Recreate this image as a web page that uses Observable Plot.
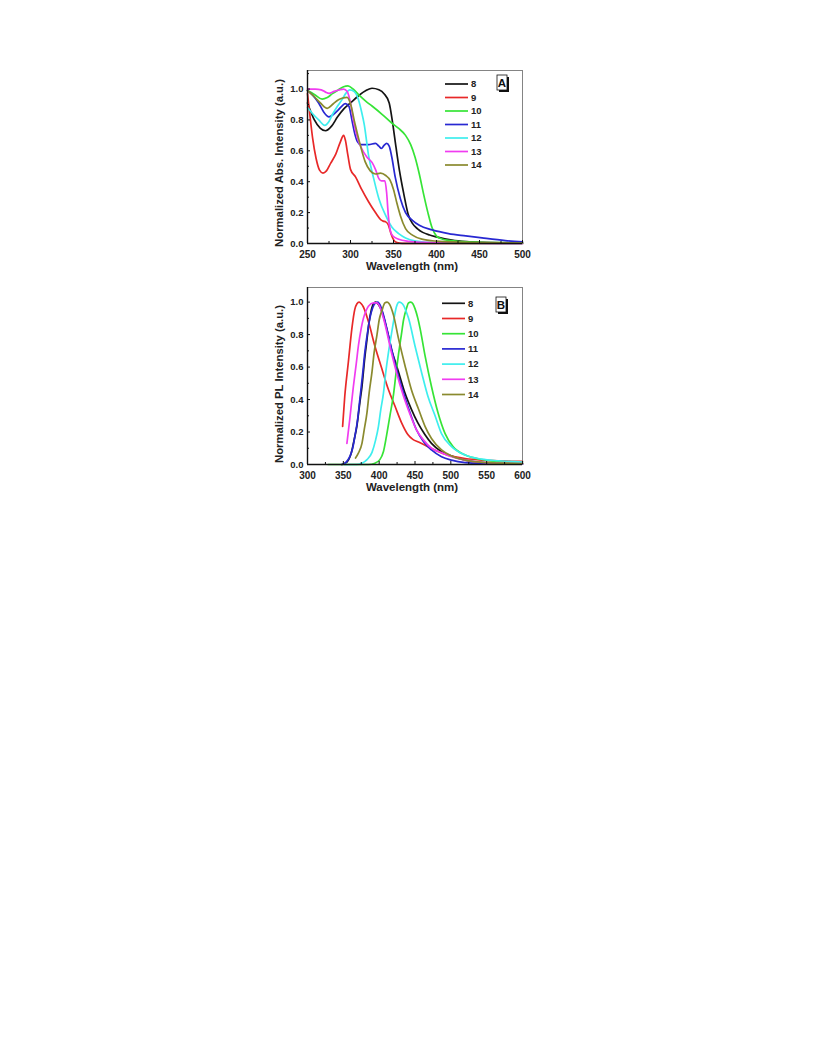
<!DOCTYPE html>
<html><head><meta charset="utf-8">
<script src="https://cdn.jsdelivr.net/npm/d3@7"></script>
<script src="https://cdn.jsdelivr.net/npm/@observablehq/plot@0.6"></script>
<style>
body{margin:0;background:#fff;}
#a{position:absolute;left:265px;top:65px;}
#b{position:absolute;left:265px;top:285px;}
svg{overflow:visible;}
</style></head><body><div id="a"></div><div id="b"></div>
<script>
const seriesNames = ["8","9","10","11","12","13","14"];
const seriesColors = ["#141414","#e82828","#36e436","#2828d2","#3eeeee","#f03cf0","#8a8a2e"];

// Panel A: normalized absorption, [wavelength nm, intensity]
const abs8 = [[250,0.91],[258,0.8],[265,0.745],[271,0.73],[278,0.76],[285,0.82],[292,0.87],[300,0.91],[310,0.96],[318,0.99],[325,1.005],[333,0.995],[339,0.97],[345,0.91],[349,0.78],[353,0.62],[357,0.47],[362,0.32],[367,0.19],[372,0.13],[378,0.095],[384,0.072],[392,0.055],[400,0.043],[418,0.022],[435,0.012],[453,0.007],[475,0.004],[500,0.003]];
const abs9 = [[250,0.97],[253,0.82],[256,0.68],[260,0.55],[264,0.475],[268,0.456],[272,0.47],[277,0.52],[283,0.58],[288,0.655],[292,0.70],[294,0.67],[297,0.57],[300,0.48],[306,0.43],[313,0.35],[321,0.27],[329,0.20],[335,0.155],[338,0.145],[341,0.14],[344,0.12],[347,0.065],[350,0.025],[354,0.006],[360,0.001],[400,0.0],[500,0.0]];
const abs10 = [[250,0.99],[258,0.965],[267,0.935],[273,0.945],[279,0.97],[286,0.995],[292,1.015],[297,1.02],[303,1.0],[310,0.96],[318,0.92],[325,0.89],[337,0.835],[348,0.78],[356,0.745],[364,0.70],[370,0.64],[375,0.56],[380,0.45],[385,0.32],[390,0.2],[395,0.1],[400,0.048],[407,0.028],[414,0.02],[430,0.012],[450,0.008],[475,0.006],[500,0.005]];
const abs11 = [[250,0.99],[256,0.96],[263,0.91],[269,0.85],[275,0.82],[280,0.835],[285,0.86],[290,0.89],[294,0.905],[298,0.89],[302,0.79],[305,0.71],[308,0.66],[312,0.64],[321,0.64],[329,0.648],[333,0.63],[336,0.615],[339,0.635],[342,0.648],[345,0.63],[348,0.56],[352,0.43],[358,0.29],[364,0.2],[372,0.15],[380,0.118],[395,0.088],[414,0.064],[434,0.049],[453,0.036],[480,0.019],[500,0.01]];
const abs12 = [[250,0.88],[256,0.84],[263,0.8],[270,0.765],[275,0.79],[279,0.835],[285,0.89],[290,0.93],[295,0.975],[299,0.995],[304,0.985],[309,0.935],[313,0.85],[316,0.77],[321,0.57],[327,0.42],[333,0.29],[341,0.18],[348,0.107],[356,0.064],[364,0.036],[376,0.015],[390,0.007],[410,0.003],[500,0.0]];
const abs13 = [[250,1.0],[259,1.0],[266,0.995],[271,0.98],[275,0.972],[281,0.985],[287,0.995],[292,1.0],[296,0.985],[300,0.91],[304,0.78],[308,0.685],[313,0.615],[319,0.56],[325,0.525],[329,0.48],[333,0.42],[336,0.405],[340,0.405],[342,0.33],[344,0.18],[346,0.09],[349,0.05],[356,0.028],[368,0.014],[385,0.007],[400,0.004],[500,0.0]];
const abs14 = [[250,0.99],[258,0.95],[265,0.91],[273,0.875],[280,0.905],[286,0.93],[291,0.942],[296,0.946],[300,0.905],[305,0.78],[311,0.645],[317,0.53],[323,0.47],[329,0.45],[335,0.455],[341,0.44],[346,0.41],[350,0.35],[354,0.26],[358,0.18],[364,0.096],[372,0.054],[383,0.028],[400,0.015],[425,0.009],[450,0.006],[500,0.003]];

// Panel B: normalized photoluminescence, [wavelength nm, intensity]
const pl8 = [[348,0.0],[355,0.015],[361,0.07],[365,0.15],[369,0.24],[373,0.38],[376,0.48],[380,0.66],[383,0.77],[386,0.88],[389,0.95],[392,0.99],[395,1.0],[399,0.985],[404,0.94],[408,0.88],[413,0.79],[417,0.71],[422,0.64],[427,0.57],[436,0.44],[445,0.34],[454,0.256],[464,0.183],[473,0.13],[487,0.079],[501,0.052],[520,0.027],[543,0.012],[570,0.007],[600,0.005]];
const pl9 = [[349,0.235],[352,0.42],[357,0.63],[362,0.84],[366,0.955],[369,0.99],[372,1.0],[375,0.99],[378,0.97],[385,0.88],[394,0.73],[403,0.6],[413,0.46],[422,0.36],[431,0.26],[440,0.185],[447,0.155],[455,0.138],[468,0.11],[482,0.08],[496,0.058],[520,0.037],[543,0.027],[566,0.023],[585,0.02],[600,0.02]];
const pl10 = [[329,0.0],[360,0.0],[385,0.0],[394,0.008],[401,0.03],[406,0.08],[410,0.17],[415,0.3],[420,0.43],[424,0.58],[427,0.68],[431,0.8],[434,0.89],[438,0.96],[441,0.995],[444,1.0],[447,0.99],[450,0.96],[454,0.9],[457,0.84],[464,0.67],[473,0.48],[482,0.32],[492,0.19],[503,0.11],[520,0.058],[543,0.031],[566,0.017],[600,0.01]];
const pl11 = [[348,0.0],[354,0.015],[359,0.048],[363,0.1],[366,0.17],[370,0.28],[373,0.4],[377,0.56],[380,0.69],[384,0.82],[387,0.9],[391,0.965],[395,0.995],[398,1.0],[402,0.975],[406,0.92],[410,0.85],[415,0.755],[424,0.59],[434,0.44],[443,0.32],[452,0.214],[462,0.14],[473,0.09],[487,0.048],[501,0.027],[520,0.012],[550,0.005],[600,0.002]];
const pl12 = [[352,0.0],[368,0.0],[376,0.008],[383,0.03],[390,0.075],[395,0.15],[399,0.235],[402,0.33],[406,0.44],[409,0.56],[413,0.69],[417,0.8],[420,0.88],[424,0.97],[428,1.0],[431,0.995],[434,0.98],[437,0.95],[441,0.9],[450,0.73],[459,0.57],[468,0.42],[478,0.3],[487,0.19],[501,0.11],[520,0.058],[543,0.033],[566,0.023],[600,0.015]];
const pl13 = [[355,0.13],[359,0.28],[364,0.48],[368,0.62],[371,0.73],[375,0.84],[378,0.9],[382,0.95],[385,0.975],[392,0.995],[397,0.995],[400,0.98],[406,0.9],[410,0.83],[415,0.73],[424,0.57],[434,0.42],[443,0.31],[452,0.214],[462,0.15],[473,0.1],[487,0.073],[501,0.048],[520,0.027],[550,0.012],[600,0.005]];
const pl14 = [[367,0.04],[371,0.07],[376,0.13],[379,0.21],[383,0.32],[386,0.44],[390,0.57],[393,0.69],[397,0.8],[400,0.89],[404,0.95],[408,0.995],[411,1.0],[414,0.99],[420,0.92],[427,0.775],[436,0.61],[445,0.46],[455,0.34],[464,0.235],[473,0.16],[487,0.09],[501,0.052],[520,0.027],[550,0.012],[600,0.006]];

const absSeries = [abs8, abs9, abs10, abs11, abs12, abs13, abs14];
const plSeries = [pl8, pl9, pl10, pl11, pl12, pl13, pl14];

const absXTicks = [250, 300, 350, 400, 450, 500];
const plXTicks = [300, 350, 400, 450, 500, 550, 600];
const yTicks = [0.0, 0.2, 0.4, 0.6, 0.8, 1.0];

const FONT = "'Liberation Sans', Arial, sans-serif";

function panel(cfg) {
  const rows = cfg.series.flatMap((pts, i) => pts.map(([x, y]) => ({series: seriesNames[i], x, y})));
  const innerW = cfg.width - cfg.ml - cfg.mr;
  const innerH = cfg.height - cfg.mt - cfg.mb;
  const step = cfg.xTicks[1] - cfg.xTicks[0];
  const xMinor = d3.range(cfg.xTicks[0] + step / 2, cfg.xTicks[cfg.xTicks.length - 1], step);
  const yMinor = d3.range(0.1, cfg.yDomain[1], 0.2);
  const legend = () => {
    const g = d3.create("svg:g").attr("font-family", FONT).attr("font-weight", "bold").attr("font-size", 9.5);
    seriesNames.forEach((s, i) => {
      const y = cfg.legTop + i * cfg.legStep;
      g.append("line").attr("x1", cfg.legX).attr("x2", cfg.legX + 23).attr("y1", y).attr("y2", y)
        .attr("stroke", seriesColors[i]).attr("stroke-width", 1.7);
      g.append("text").attr("x", cfg.legX + 26).attr("y", y).attr("dy", "0.35em")
        .attr("text-anchor", "start").attr("fill", "#222").text(s);
    });
    const t = g.append("g").attr("transform", `translate(${cfg.tagX},${cfg.tagY})`);
    t.append("rect").attr("x", 2).attr("y", 2).attr("width", 10).attr("height", 15).attr("fill", "#111");
    t.append("rect").attr("x", 0).attr("y", 0).attr("width", 10).attr("height", 15).attr("fill", "#fff").attr("stroke", "#111").attr("stroke-width", 0.8);
    t.append("text").attr("x", 5).attr("y", 8).attr("dy", "0.35em").attr("text-anchor", "middle")
      .attr("font-size", 11.5).attr("fill", "#111").text(cfg.tag);
    return g.node();
  };
  return Plot.plot({
    width: cfg.width, height: cfg.height,
    marginLeft: cfg.ml, marginRight: cfg.mr, marginTop: cfg.mt, marginBottom: cfg.mb,
    x: {domain: cfg.xDomain},
    y: {domain: cfg.yDomain},
    color: {domain: seriesNames, range: seriesColors},
    style: {fontFamily: FONT, fontWeight: "bold", fontSize: "10px", color: "#222", background: "#fff", overflow: "visible"},
    marks: [
      Plot.line(rows, {x: "x", y: "y", z: "series", stroke: "series", strokeWidth: 1.7, curve: "monotone-x"}),
      Plot.frame({stroke: "#666", strokeWidth: 0.8}),
      Plot.ruleX([cfg.xDomain[0]], {stroke: "#111", strokeWidth: 1.4}),
      Plot.ruleY([cfg.yDomain[0]], {stroke: "#111", strokeWidth: 1.4}),
      Plot.tickX(cfg.xTicks, {x: d => d, insetTop: innerH - 3, stroke: "#111"}),
      Plot.tickX(xMinor, {x: d => d, insetTop: innerH - 2, stroke: "#111"}),
      Plot.tickY(yTicks, {y: d => d, insetRight: innerW - 3, stroke: "#111"}),
      Plot.tickY(yMinor, {y: d => d, insetRight: innerW - 2, stroke: "#111"}),
      Plot.axisX(cfg.xTicks, {tickSize: 0, tickPadding: 7, label: null, fontSize: 10, fontWeight: "bold"}),
      Plot.axisY(yTicks, {tickSize: 0, tickPadding: 4, label: null, tickFormat: d3.format(".1f"), fontSize: 9.5, fontWeight: "bold"}),
      Plot.text([cfg.xTitle], {frameAnchor: "bottom", dy: 26.5, dx: -3, text: d => d, textAnchor: "middle", fontSize: 11.5, fontWeight: "bold", fill: "#222"}),
      Plot.text([cfg.yTitle], {frameAnchor: "left", dx: -28, dy: cfg.yTitleDy, rotate: -90, text: d => d, textAnchor: "middle", fontSize: 11.3, fontWeight: "bold", fill: "#222"}),
      legend
    ]
  });
}

document.getElementById("a").append(panel({
  series: absSeries, xDomain: [250, 500], yDomain: [0, 1.12], xTicks: absXTicks,
  width: 265, height: 215, ml: 42, mr: 8, mt: 5, mb: 37,
  xTitle: "Wavelength (nm)", yTitle: "Normalized Abs. Intensity (a.u.)", yTitleDy: 6,
  legX: 180, legTop: 19, legStep: 13.5, tag: "A", tagX: 232, tagY: 10
}));
document.getElementById("b").append(panel({
  series: plSeries, xDomain: [300, 600], yDomain: [0, 1.09], xTicks: plXTicks,
  width: 265, height: 215, ml: 42, mr: 8, mt: 2, mb: 36,
  xTitle: "Wavelength (nm)", yTitle: "Normalized PL Intensity (a.u.)", yTitleDy: 8,
  legX: 177, legTop: 18.3, legStep: 15.2, tag: "B", tagX: 231, tagY: 12
}));
</script></body></html>
